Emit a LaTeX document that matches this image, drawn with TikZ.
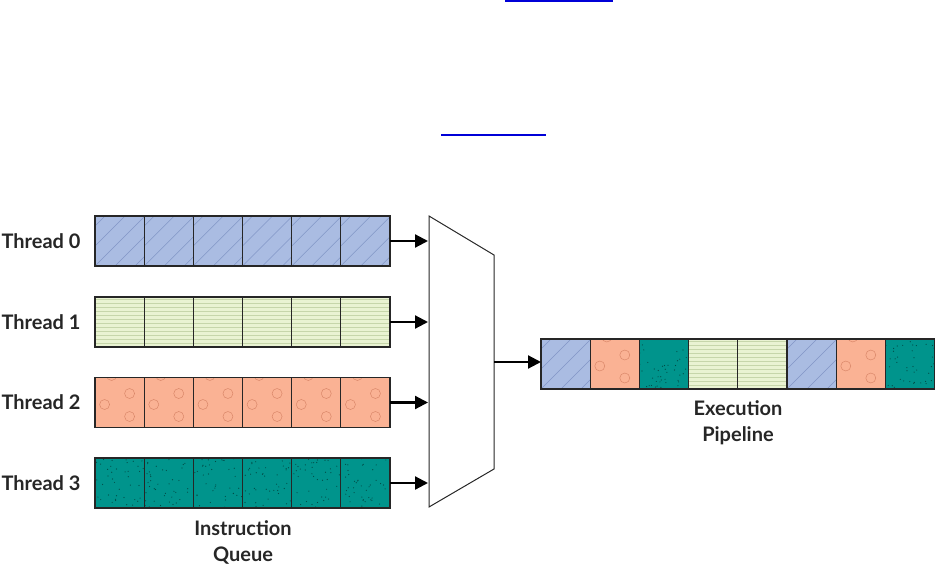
\documentclass[tikz,border=0pt]{standalone}
\usepackage{fontspec}
\setmainfont{Lato}
\usetikzlibrary{arrows.meta}
\definecolor{cblue}{RGB}{170,188,226}
\definecolor{cbluel}{RGB}{130,150,198}
\definecolor{cgreen}{RGB}{233,243,210}
\definecolor{cgreenl}{RGB}{198,214,170}
\definecolor{corange}{RGB}{250,178,148}
\definecolor{corangel}{RGB}{218,135,105}
\definecolor{cteal}{RGB}{0,148,140}
\definecolor{ctealdot}{RGB}{0,75,70}
\definecolor{linkblue}{RGB}{0,0,215}
\tikzset{
  cell/.style={draw=black!85, line width=1.1pt, minimum width=49.2pt, minimum height=50pt, inner sep=0pt, outer sep=0pt},
  cb/.style={cell, fill=cblue, path picture={\foreach \i in {-3,...,2} \draw[cbluel, line width=0.5pt] ([xshift=\i*20pt]path picture bounding box.south west) -- ++(60pt,60pt);}},
  cg/.style={cell, fill=cgreen, path picture={\foreach \i in {1,...,12} \draw[cgreenl, line width=0.5pt] ([yshift=\i*4pt]path picture bounding box.south west) -- ++(60pt,0pt);}},
  co/.style={cell, fill=corange, path picture={\foreach \dx/\dy in {10/9,-15/-2,10/-14,-8/27} \draw[corangel, line width=0.5pt] ([xshift=\dx pt,yshift=\dy pt]path picture bounding box.center) circle (5pt);}},
  ct/.style={cell, fill=cteal, path picture={\foreach \i in {1,...,40} {\pgfmathsetmacro\rx{rnd*49}\pgfmathsetmacro\ry{rnd*50}\fill[ctealdot] ([xshift=\rx pt,yshift=\ry pt]path picture bounding box.south west) circle (0.6pt);}}},
  lbl/.style={font=\fontsize{20}{26}\selectfont\bfseries, text=black!85},
  arr/.style={line width=2.2pt, -{Triangle[length=13pt,width=13pt]}},
}
\pgfmathsetseed{7}
\begin{document}
\begin{tikzpicture}[x=1pt,y=-1pt]
\useasboundingbox (0,0) rectangle (936,567);
% link lines
\draw[linkblue, line width=2pt] (505,1) -- (613,1);
\draw[linkblue, line width=2pt] (441,135) -- (546,135);
% thread queues
\foreach \r/\yy/\st in {0/241/cb,1/322/cg,2/402.5/co,3/483/ct} {
  \node[lbl, anchor=east] (lab\r) at (84,\yy) {Thread \r};
  \foreach \k in {1,...,6} {
    \node[\st] (t\r c\k) at ({95+49.17*(\k-0.5)},\yy) {};
  }
}
% mux
\draw[line width=1pt, black!85] (429,216) -- (494,255) -- (494,469) -- (429,507) -- cycle;
\coordinate (m0) at (428,241);
\coordinate (m1) at (428,322);
\coordinate (m2) at (428,402.5);
\coordinate (m3) at (428,483);
\coordinate (mout) at (494,362);
\foreach \r in {0,...,3} \draw[arr] (t\r c6.east) -- (m\r);
% pipeline
\foreach \k/\st in {1/cb,2/co,3/ct,4/cg,5/cg,6/cb,7/co,8/ct} {
  \node[\st] (p\k) at ({541+49.2*(\k-0.5)},364) {};
}
\draw[arr] (mout) -- (mout -| p1.west);
% labels
\node[lbl, align=center] (iq) at (243,542) {Instruction\\Queue};
\node[lbl, align=center] (ep) at (738,423) {Execution\\Pipeline};
\end{tikzpicture}
\end{document}
